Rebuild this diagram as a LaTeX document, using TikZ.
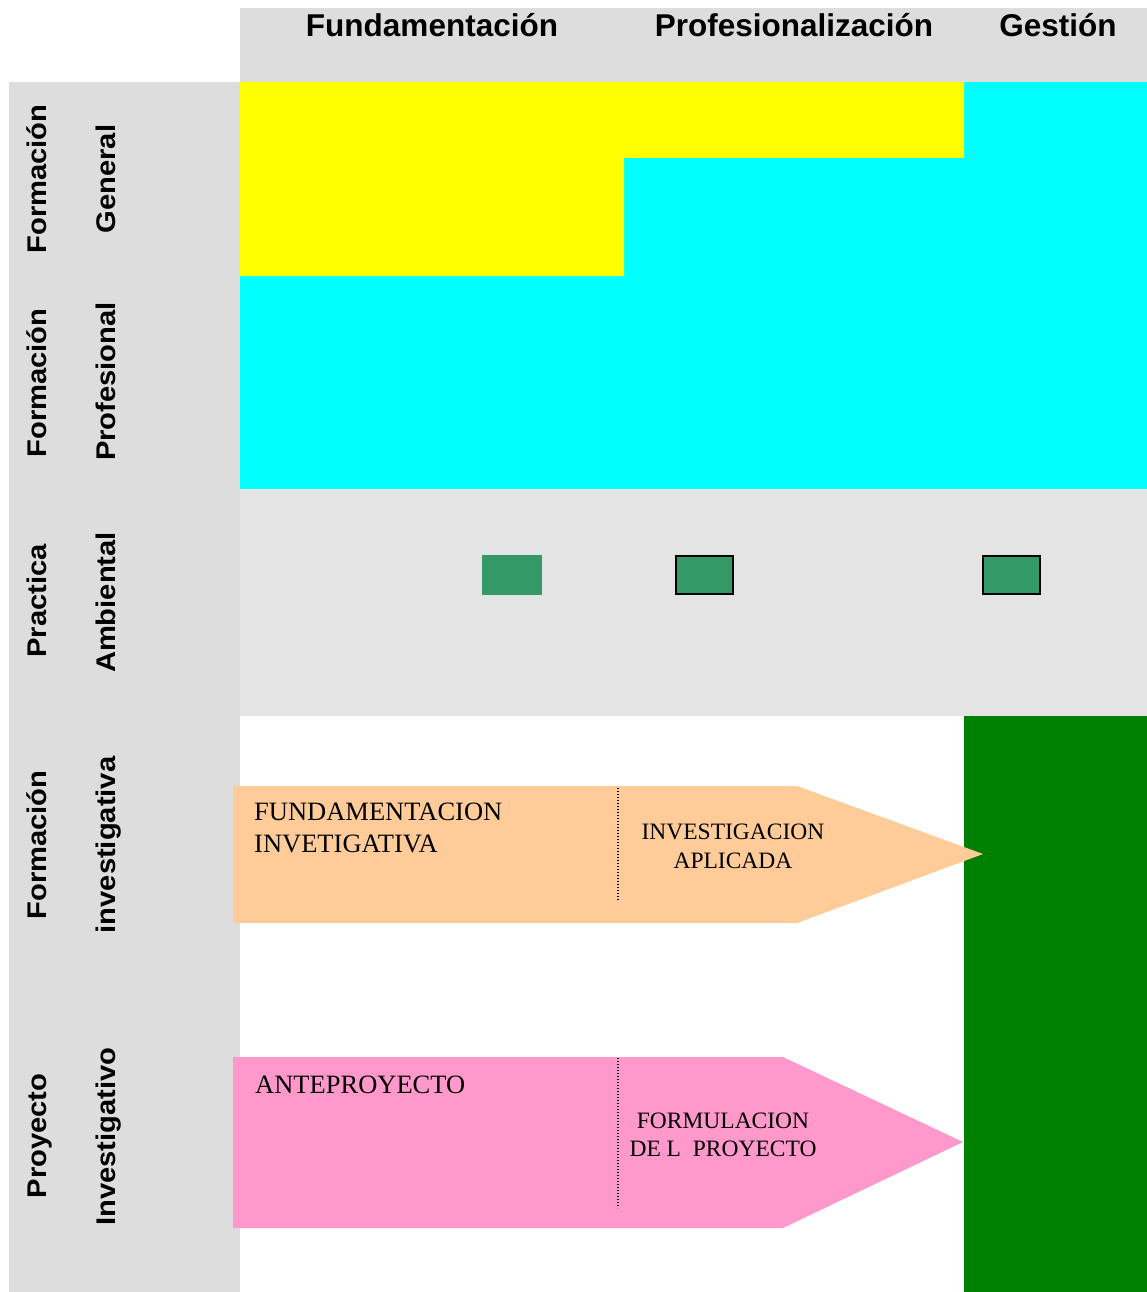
\documentclass[tikz,border=0pt]{standalone}
\usepackage{fontspec}
\setmainfont{Liberation Serif}
\newfontfamily\hdrfont{Liberation Sans}
\newfontfamily\sidefont{Liberation Sans}[FakeStretch=1.08]
\definecolor{hdrgray}{HTML}{DDDDDD}
\definecolor{bandgray}{HTML}{E4E4E4}
\definecolor{cyanfill}{HTML}{00FFFF}
\definecolor{yellowfill}{HTML}{FFFF00}
\definecolor{sqgreen}{HTML}{339966}
\definecolor{blockgreen}{HTML}{008000}
\definecolor{orangefill}{HTML}{FFCC99}
\definecolor{pinkfill}{HTML}{FF99CC}
\begin{document}
\begin{tikzpicture}[x=1pt,y=-1pt,
  hdr/.style={font=\hdrfont\bfseries\fontsize{31.5}{36}\selectfont, anchor=base, inner sep=0},
  side/.style={font=\sidefont\bfseries\fontsize{27}{32}\selectfont, rotate=90, anchor=base, inner sep=0},
  bigtxt/.style={font=\fontsize{26.5}{32}\selectfont, anchor=base west, inner sep=0},
  midtxt/.style={font=\fontsize{23.5}{29}\selectfont, anchor=base, inner sep=0},
  sqbox/.style={fill=sqgreen, draw=black, line width=2pt, minimum width=57pt, minimum height=38pt, inner sep=0},
  divider/.style={line width=1.3pt, dash pattern=on 1.3pt off 1.7pt}]
\useasboundingbox (0,0) rectangle (1147,1292);
% backgrounds
\fill[hdrgray] (240,8) rectangle (1147,82);
\fill[hdrgray] (9,82) rectangle (240,1292);
\fill[cyanfill] (240,82) rectangle (1147,489);
\fill[yellowfill] (240,82) -- (964,82) -- (964,158) -- (624,158) -- (624,276) -- (240,276) -- cycle;
\fill[bandgray] (240,489) rectangle (1147,716);
\fill[blockgreen] (964,716) rectangle (1147,1292);
% squares
\node[sqbox, draw=none, minimum width=60pt, minimum height=40pt] (s1) at (512,575) {};
\node[sqbox] (s2) at (704,575) {};
\node[sqbox] (s3) at (1011.5,575) {};
% arrows
\fill[orangefill] (233,786) -- (797,786) -- (983,854) -- (797,923) -- (233,923) -- cycle;
\coordinate (d1a) at (618,788);
\coordinate (d1b) at (618,901);
\draw[divider] (d1a) -- (d1b);
\fill[pinkfill] (233,1057) -- (783,1057) -- (963,1142) -- (783,1228) -- (233,1228) -- cycle;
\coordinate (d2a) at (618,1058);
\coordinate (d2b) at (618,1208);
\draw[divider] (d2a) -- (d2b);
% headers
\node[hdr] (h1) at (432,37) {Fundamentación};
\node[hdr] (h2) at (794,37) {Profesionalización};
\node[hdr] (h3) at (1058,37) {Gestión};
% side labels
\node[side] (l1a) at (46,179) {Formación};
\node[side] (l1b) at (115,179) {General};
\node[side] (l2a) at (46,383) {Formación};
\node[side] (l2b) at (115,381.5) {Profesional};
\node[side] (l3a) at (46,601) {Practica};
\node[side] (l3b) at (115,602.5) {Ambiental};
\node[side] (l4a) at (46,845) {Formación};
\node[side] (l4b) at (115,845) {investigativa};
\node[side] (l5a) at (46,1136) {Proyecto};
\node[side] (l5b) at (115,1136.5) {Investigativo};
% arrow texts
\node[bigtxt] (t1) at (254,820) {FUNDAMENTACION};
\node[bigtxt] (t2) at (254,852) {INVETIGATIVA};
\node[midtxt] (t3) at (733,839) {INVESTIGACION};
\node[midtxt] (t4) at (733,868) {APLICADA};
\node[bigtxt] (t5) at (255,1093) {ANTEPROYECTO};
\node[midtxt] (t6) at (723,1128) {FORMULACION};
\node[midtxt] (t7) at (723,1156) {DE L\ \ PROYECTO};
\end{tikzpicture}
\end{document}
